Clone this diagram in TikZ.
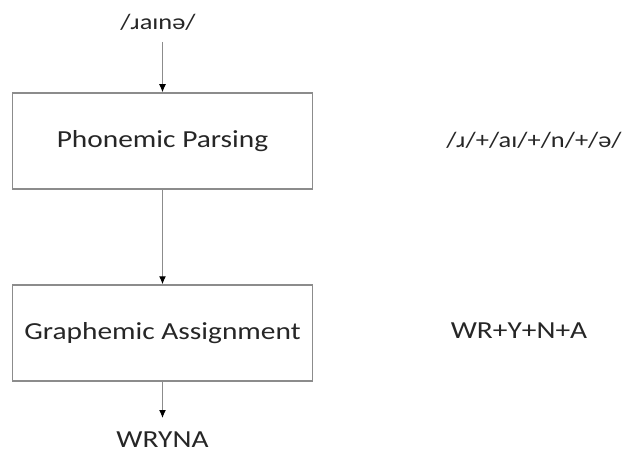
\documentclass[tikz,border=0pt]{standalone}
\usepackage{fontspec}
\setmainfont{Carlito}[FakeStretch=1.2]
\definecolor{linegray}{HTML}{8C8C8C}
\definecolor{textgray}{HTML}{262626}
\tikzset{
  stagebox/.style={draw=linegray, line width=1.5pt, minimum width=300pt, minimum height=96pt, text=textgray, font=\fontsize{24.5pt}{28pt}\selectfont},
  label text/.style={text=textgray, font=\fontsize{24.5pt}{28pt}\selectfont},
  ipa text/.style={text=textgray, font=\fontsize{22pt}{26pt}\selectfont},
  flow/.style={draw=linegray, line width=1pt, -{Latex[black, length=8pt, width=7pt]}}
}
\usetikzlibrary{arrows.meta}
\begin{document}
\begin{tikzpicture}[x=1pt, y=-1pt]
		\useasboundingbox (0,0) rectangle (626,454);
		\node[ipa text] (input) at (158,22) {/ɹaɪnə/};
		\node[stagebox] (parse) at (162.5,141) {Phonemic Parsing};
		\node[stagebox] (assign) at (162.5,333) {Graphemic Assignment};
		\node[label text] (output) at (162.5,440) {WRYNA};
		\node[ipa text] (phonemes) at (534,140) {/ɹ/+/aɪ/+/n/+/ə/};
		\node[label text] (graphemes) at (519,331) {WR+Y+N+A};
		\coordinate (start) at (162.5,42);
		\coordinate (finish) at (162.5,418);
		\draw[flow] (start) -- (parse.north);
		\draw[flow] (parse.south) -- (assign.north);
		\draw[flow] (assign.south) -- (finish);
		\end{tikzpicture}
\end{document}
